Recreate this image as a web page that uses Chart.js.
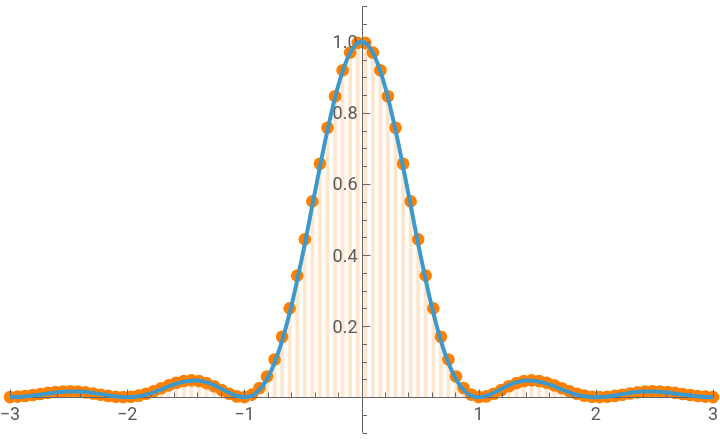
<!DOCTYPE html>
<html>
<head>
<meta charset="utf-8">
<script src="https://cdn.jsdelivr.net/npm/chart.js@4.4.0/dist/chart.umd.min.js"></script>
<style>
  html, body { margin: 0; padding: 0; background: #fff; }
  #wrap { width: 720px; height: 439px; }
</style>
</head>
<body>
<div id="wrap"><canvas id="plot" width="720" height="439"></canvas></div>
<script>
// sampled points (orange dots with stems)
const dotX = [-3, -2.9355, -2.871, -2.8065, -2.7419, -2.6774, -2.6129, -2.5484, -2.4839, -2.4194,
  -2.3548, -2.2903, -2.2258, -2.1613, -2.0968, -2.0323, -1.9677, -1.9032, -1.8387, -1.7742,
  -1.7097, -1.6452, -1.5806, -1.5161, -1.4516, -1.3871, -1.3226, -1.2581, -1.1935, -1.129,
  -1.0645, -1, -0.9355, -0.871, -0.8065, -0.7419, -0.6774, -0.6129, -0.5484, -0.4839,
  -0.4194, -0.3548, -0.2903, -0.2258, -0.1613, -0.0968, -0.0323,
  0.0323, 0.0968, 0.1613, 0.2258, 0.2903, 0.3548, 0.4194, 0.4839, 0.5484, 0.6129,
  0.6774, 0.7419, 0.8065, 0.871, 0.9355, 1, 1.0645, 1.129, 1.1935, 1.2581,
  1.3226, 1.3871, 1.4516, 1.5161, 1.5806, 1.6452, 1.7097, 1.7742, 1.8387, 1.9032,
  1.9677, 2.0323, 2.0968, 2.1613, 2.2258, 2.2903, 2.3548, 2.4194, 2.4839, 2.5484,
  2.6129, 2.6774, 2.7419, 2.8065, 2.871, 2.9355, 3];
const dotY = [0.0002, 0.0014, 0.0034, 0.0060, 0.0091, 0.0120, 0.0145, 0.0161, 0.0165, 0.0155,
  0.0134, 0.0103, 0.0068, 0.0035, 0.0010, 0.0000, 0.0010, 0.0042, 0.0097, 0.0168,
  0.0251, 0.0333, 0.0405, 0.0454, 0.0472, 0.0453, 0.0396, 0.0308, 0.0201, 0.0097,
  0.0021, 0.0002, 0.0071, 0.0257, 0.058, 0.106, 0.170, 0.250, 0.342, 0.444,
  0.551, 0.657, 0.758, 0.847, 0.920, 0.970, 0.997,
  0.997, 0.970, 0.920, 0.847, 0.758, 0.657, 0.551, 0.444, 0.342, 0.250,
  0.170, 0.106, 0.058, 0.0257, 0.0071, 0.0002, 0.0021, 0.0097, 0.0201, 0.0308,
  0.0396, 0.0453, 0.0472, 0.0454, 0.0405, 0.0333, 0.0251, 0.0168, 0.0097, 0.0042,
  0.0010, 0.0000, 0.0010, 0.0035, 0.0068, 0.0103, 0.0134, 0.0155, 0.0165, 0.0161,
  0.0145, 0.0120, 0.0091, 0.0060, 0.0034, 0.0014, 0.0002];

// smooth curve (blue)
const lineX = [-3, -2.9, -2.8, -2.7, -2.6, -2.5, -2.4, -2.3, -2.2, -2.1,
  -2, -1.9, -1.8, -1.7, -1.6, -1.5, -1.4, -1.3, -1.2, -1.1,
  -1, -0.9, -0.8, -0.7, -0.6, -0.5, -0.4, -0.3, -0.2, -0.1, 0,
  0.1, 0.2, 0.3, 0.4, 0.5, 0.6, 0.7, 0.8, 0.9, 1,
  1.1, 1.2, 1.3, 1.4, 1.5, 1.6, 1.7, 1.8, 1.9, 2,
  2.1, 2.2, 2.3, 2.4, 2.5, 2.6, 2.7, 2.8, 2.9, 3];
const lineY = [0, 0.00115, 0.004465, 0.009097, 0.013557, 0.016211, 0.015911, 0.012536, 0.007232, 0.002194,
  0, 0.00268, 0.010804, 0.022946, 0.035799, 0.045032, 0.046758, 0.03924, 0.02431, 0.007996,
  0, 0.011945, 0.054696, 0.135338, 0.254572, 0.405285, 0.572787, 0.73684, 0.87514, 0.967531, 1,
  0.967531, 0.87514, 0.73684, 0.572787, 0.405285, 0.254572, 0.135338, 0.054696, 0.011945, 0,
  0.007996, 0.02431, 0.03924, 0.046758, 0.045032, 0.035799, 0.022946, 0.010804, 0.00268, 0,
  0.002194, 0.007232, 0.012536, 0.015911, 0.016211, 0.013557, 0.009097, 0.004465, 0.00115, 0];

// ticks
const xTicks = [-3, -2, -1, 1, 2, 3];
const xTickLabels = ["\u22123", "\u22122", "\u22121", "1", "2", "3"];
const xMinor = [-2.8, -2.6, -2.4, -2.2, -1.8, -1.6, -1.4, -1.2, -0.8, -0.6, -0.4, -0.2,
  0.2, 0.4, 0.6, 0.8, 1.2, 1.4, 1.6, 1.8, 2.2, 2.4, 2.6, 2.8];
const yTicks = [0.2, 0.4, 0.6, 0.8, 1.0];
const yTickLabels = ["0.2", "0.4", "0.6", "0.8", "1.0"];
const yMinor = [-0.1, -0.05, 0.05, 0.1, 0.15, 0.25, 0.3, 0.35, 0.45, 0.5, 0.55,
  0.65, 0.7, 0.75, 0.85, 0.9, 0.95, 1.05, 1.1];

const axisColor = "#666666";
const labelColor = "#5a5a5a";

const axesPlugin = {
  id: "axesAtZero",
  beforeDatasetsDraw(chart) {
    // stems from each dot down to the axis
    const ctx = chart.ctx;
    const meta = chart.getDatasetMeta(1);
    const y0 = chart.scales.y.getPixelForValue(0);
    ctx.save();
    ctx.strokeStyle = "#ffe6cc";
    ctx.lineWidth = 3.8;
    meta.data.forEach(pt => {
      ctx.beginPath();
      ctx.moveTo(pt.x, y0);
      ctx.lineTo(pt.x, pt.y);
      ctx.stroke();
    });
    ctx.restore();
  },
  afterDatasetDraw(chart, args) {
    if (args.index !== 1) return;
    const ctx = chart.ctx;
    const xs = chart.scales.x, ys = chart.scales.y;
    const y0 = Math.round(ys.getPixelForValue(0)) + 0.5;
    const x0 = Math.round(xs.getPixelForValue(0)) + 0.5;
    ctx.save();
    ctx.strokeStyle = axisColor;
    ctx.lineWidth = 1;
    ctx.beginPath();
    ctx.moveTo(xs.getPixelForValue(-3), y0);
    ctx.lineTo(xs.getPixelForValue(3), y0);
    ctx.moveTo(x0, ys.getPixelForValue(1.1));
    ctx.lineTo(x0, ys.getPixelForValue(-0.1));
    xTicks.forEach(v => {
      const px = Math.round(xs.getPixelForValue(v)) + 0.5;
      ctx.moveTo(px, y0); ctx.lineTo(px, y0 - 8);
    });
    xMinor.forEach(v => {
      const px = Math.round(xs.getPixelForValue(v)) + 0.5;
      ctx.moveTo(px, y0); ctx.lineTo(px, y0 - 5);
    });
    yTicks.forEach(v => {
      const py = Math.round(ys.getPixelForValue(v)) + 0.5;
      ctx.moveTo(x0, py); ctx.lineTo(x0 + 8, py);
    });
    yMinor.forEach(v => {
      const py = Math.max(0.5, Math.round(ys.getPixelForValue(v)) + 0.5);
      ctx.moveTo(x0, py); ctx.lineTo(x0 + 4.5, py);
    });
    ctx.stroke();

    ctx.fillStyle = labelColor;
    ctx.font = "18px Roboto";
    ctx.textAlign = "center";
    ctx.textBaseline = "alphabetic";
    xTicks.forEach((v, i) => {
      ctx.fillText(xTickLabels[i], xs.getPixelForValue(v), y0 + 22.5);
    });
    ctx.textAlign = "right";
    yTicks.forEach((v, i) => {
      ctx.fillText(yTickLabels[i], x0 - 5, ys.getPixelForValue(v) + 6.5);
    });
    ctx.restore();
  }
};

new Chart(document.getElementById("plot"), {
  type: "scatter",
  data: {
    datasets: [
      {
        type: "line",
        data: lineX.map((x, i) => ({ x: x, y: lineY[i] })),
        borderColor: "#3d99cc",
        borderWidth: 4,
        pointRadius: 0,
        cubicInterpolationMode: "monotone",
        fill: false,
        clip: false
      },
      {
        type: "scatter",
        data: dotX.map((x, i) => ({ x: x, y: dotY[i] })),
        backgroundColor: "#ff8000",
        borderWidth: 0,
        pointRadius: 6.3,
        clip: false
      }
    ]
  },
  options: {
    responsive: false,
    devicePixelRatio: 1,
    animation: false,
    layout: { padding: { left: 10, right: 7, top: 0, bottom: 3 } },
    plugins: { legend: { display: false }, tooltip: { enabled: false } },
    scales: {
      x: { type: "linear", min: -3, max: 3, display: false },
      y: { type: "linear", min: -0.1, max: 1.1, display: false }
    }
  },
  plugins: [axesPlugin]
});
</script>
</body>
</html>
